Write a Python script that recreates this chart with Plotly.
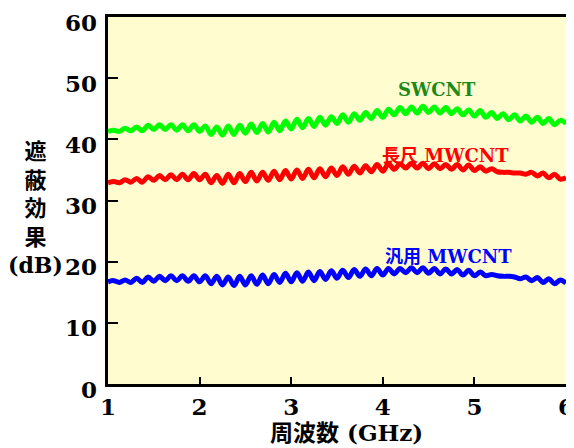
import plotly.graph_objects as go

# Frequency grid (GHz)
freq = [1.0, 1.0625, 1.125, 1.1875, 1.25, 1.3125, 1.375, 1.4375, 1.5, 1.5625, 1.625, 1.6875, 1.75, 1.8125, 1.875, 1.9375,
        2.0, 2.0625, 2.125, 2.1875, 2.25, 2.3125, 2.375, 2.4375, 2.5, 2.5625, 2.625, 2.6875, 2.75, 2.8125, 2.875, 2.9375,
        3.0, 3.0625, 3.125, 3.1875, 3.25, 3.3125, 3.375, 3.4375, 3.5, 3.5625, 3.625, 3.6875, 3.75, 3.8125, 3.875, 3.9375,
        4.0, 4.0625, 4.125, 4.1875, 4.25, 4.3125, 4.375, 4.4375, 4.5, 4.5625, 4.625, 4.6875, 4.75, 4.8125, 4.875, 4.9375,
        5.0, 5.0625, 5.125, 5.1875, 5.25, 5.3125, 5.375, 5.4375, 5.5, 5.5625, 5.625, 5.6875, 5.75, 5.8125, 5.875, 5.9375,
        6.0]

swcnt = [41.3, 41.5, 41.3, 41.8, 41.4, 42.0, 41.4, 42.3, 41.6, 42.4, 41.6, 42.4, 41.5, 42.4, 41.4, 42.4,
         41.3, 42.2, 40.8, 42.0, 40.7, 42.2, 40.8, 42.3, 41.0, 42.5, 41.1, 42.6, 41.2, 42.8, 41.4, 43.0,
         41.7, 43.3, 41.9, 43.4, 42.1, 43.6, 42.3, 43.7, 42.6, 44.0, 42.8, 44.2, 43.1, 44.4, 43.4, 44.7,
         43.6, 44.9, 44.0, 45.2, 44.2, 45.3, 44.3, 45.4, 44.4, 45.3, 44.3, 45.2, 44.2, 45.0, 44.0, 44.8,
         43.8, 44.7, 43.6, 44.4, 43.4, 44.2, 43.2, 44.0, 43.0, 43.8, 42.8, 43.6, 42.6, 43.4, 42.4, 43.1,
         42.6]

long_mwcnt = [32.9, 33.1, 32.9, 33.4, 33.0, 33.6, 33.0, 33.9, 33.3, 34.1, 33.4, 34.2, 33.4, 34.3, 33.4, 34.4,
              33.4, 34.3, 32.9, 34.1, 32.8, 34.3, 32.9, 34.4, 33.1, 34.6, 33.2, 34.6, 33.3, 34.8, 33.4, 34.9,
              33.5, 35.0, 33.6, 35.1, 33.7, 35.2, 33.9, 35.3, 34.1, 35.5, 34.3, 35.6, 34.5, 35.7, 34.7, 35.9,
              34.8, 36.0, 35.1, 36.0, 35.3, 36.1, 35.3, 36.1, 35.2, 36.0, 35.2, 35.9, 35.1, 35.9, 35.0, 35.8,
              34.9, 35.5, 34.8, 35.2, 34.7, 34.6, 34.6, 34.5, 34.5, 34.3, 34.6, 34.0, 34.5, 33.7, 34.3, 33.5,
              33.7]

general_mwcnt = [16.7, 16.9, 16.6, 17.0, 16.6, 17.3, 16.6, 17.5, 16.8, 17.6, 16.9, 17.7, 16.9, 17.7, 16.8, 17.7,
                 16.7, 17.7, 16.4, 17.6, 16.2, 17.5, 16.1, 17.6, 16.2, 17.7, 16.3, 17.8, 16.4, 17.9, 16.6, 18.1,
                 16.7, 18.2, 16.8, 18.3, 16.9, 18.4, 17.1, 18.5, 17.3, 18.6, 17.4, 18.7, 17.6, 18.8, 17.7, 18.9,
                 17.8, 18.9, 18.0, 18.9, 18.2, 19.0, 18.2, 19.0, 18.1, 18.9, 18.0, 18.8, 18.0, 18.7, 17.8, 18.6,
                 17.7, 18.3, 17.7, 17.9, 17.7, 17.6, 17.6, 17.5, 17.2, 17.5, 16.9, 17.4, 16.6, 17.2, 16.4, 17.0,
                 16.5]

x_ticks = [1, 2, 3, 4, 5, 6]
y_ticks = [0, 10, 20, 30, 40, 50, 60]

series_names = ["SWCNT", "長尺 MWCNT", "汎用 MWCNT"]
label_x = [4.59, 4.68, 4.72]
label_y = [48.1, 37.4, 20.8]

line_colors = ["#00FF00", "#FF0000", "#0000FF"]
label_colors = ["#1B8A1B", "#FF0000", "#0000FF"]

serif = "DejaVu Serif, Noto Sans CJK JP, serif"
tick_font = dict(family=serif, size=23, color="black", weight="bold")

# the page adds an 8px body margin, so the figure is sized 8px smaller
W, H = 566, 440
L, R, T, B = 100, 8, 9, 64
PW, PH = W - L - R, H - T - B

fig = go.Figure()
for vals, col in zip([swcnt, long_mwcnt, general_mwcnt], line_colors):
    fig.add_trace(go.Scatter(x=freq, y=vals, mode="lines",
                             line=dict(color=col, width=5, shape="spline", smoothing=1.0),
                             showlegend=False, hoverinfo="skip"))

for name, lx, ly, col in zip(series_names, label_x, label_y, label_colors):
    fig.add_annotation(x=lx, y=ly, text=name, showarrow=False, xref="x", yref="y",
                       font=dict(family=serif, size=18, color=col, weight="bold"))

# y tick labels (sit slightly below their ticks, as in the original)
for v in y_ticks:
    fig.add_annotation(x=0, y=v, xref="paper", yref="y", text=str(v), showarrow=False,
                       xanchor="right", yanchor="middle", xshift=-9, yshift=-5,
                       font=tick_font)

# y-axis title (stacked vertical text)
fig.add_annotation(x=-73 / PW, y=(PH - 191) / PH, xref="paper", yref="paper",
                   text="遮<br>蔽<br>効<br>果<br>(dB)", showarrow=False,
                   xanchor="center", yanchor="middle",
                   font=dict(family=serif, size=22, color="black", weight="bold"))

# x-axis title
fig.add_annotation(x=238 / PW, y=-48 / PH, xref="paper", yref="paper",
                   text="周波数 (GHz)", showarrow=False, xanchor="center", yanchor="middle",
                   font=dict(family=serif, size=23, color="black", weight="bold"))

fig.update_layout(
    width=W, height=H,
    margin=dict(l=L, r=R, t=T, b=B, autoexpand=False),
    paper_bgcolor="white",
    plot_bgcolor="#FFFDD0",
    xaxis=dict(range=[1, 6], tickvals=x_ticks, ticktext=[str(v) for v in x_ticks],
               ticks="inside", ticklen=7, tickwidth=2, tickcolor="black",
               showline=True, linewidth=3, linecolor="black", mirror=True,
               showgrid=False, zeroline=False, automargin=False, ticklabeloverflow="allow",
               tickfont=tick_font),
    yaxis=dict(range=[0, 60], tickvals=y_ticks, showticklabels=False,
               ticks="inside", ticklen=10, tickwidth=2, tickcolor="black",
               showline=True, linewidth=3, linecolor="black", mirror=True,
               showgrid=False, zeroline=False, automargin=False),
)

fig.write_html("out.html")
